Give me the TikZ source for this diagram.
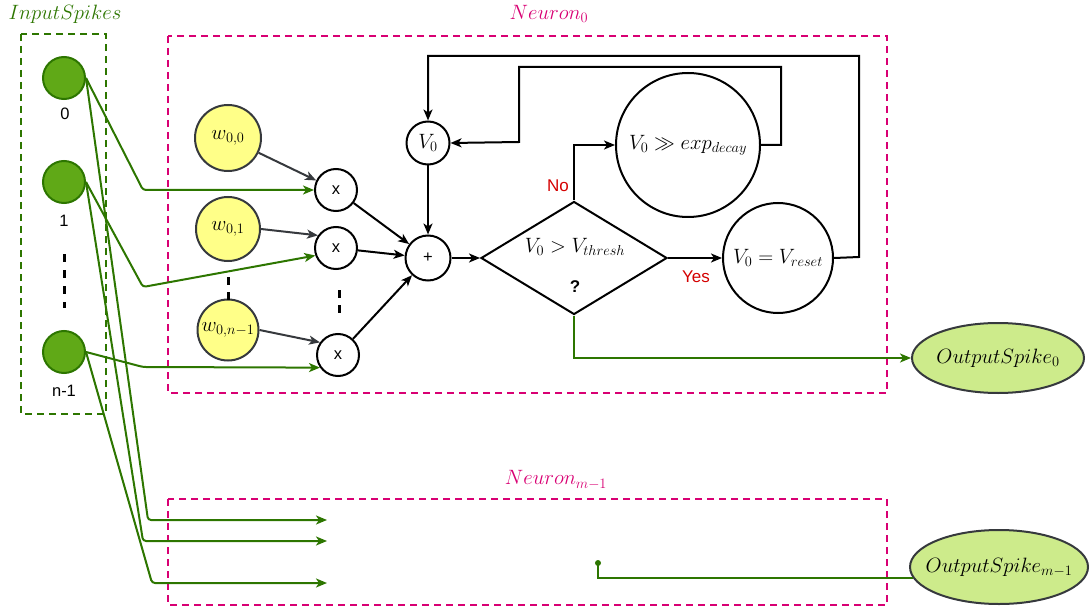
\documentclass[tikz,border=0pt]{standalone}
\usepackage{fontspec}
\setsansfont{Liberation Sans}
\usetikzlibrary{arrows.meta,shapes.geometric}
\definecolor{spk}{HTML}{60A917}
\definecolor{spkb}{HTML}{2D7600}
\definecolor{mag}{HTML}{D80073}
\definecolor{wfill}{HTML}{FFFF88}
\definecolor{gborder}{HTML}{36393D}
\definecolor{ofill}{HTML}{CDEB8B}
\definecolor{redlab}{HTML}{D40000}
\begin{document}
\begin{tikzpicture}[x=1pt,y=-1pt,
  mfont/.style={font=\fontsize{21}{25}\selectfont},
  sfont/.style={font=\sffamily\fontsize{16.5}{19}\selectfont},
  spike/.style={circle,draw=spkb,fill=spk,line width=2pt,minimum size=42pt,inner sep=0pt},
  wnode/.style={circle,draw=gborder,fill=wfill,line width=2pt,inner sep=0pt,mfont},
  opnode/.style={circle,draw=black,line width=2pt,inner sep=0pt,fill=white},
  outnode/.style={ellipse,draw=gborder,fill=ofill,line width=2pt,inner xsep=-25pt,inner ysep=0pt,mfont},
  tip/.style={-{Stealth[length=11pt,width=9pt,inset=3pt]}},
  gline/.style={draw=spkb,line width=2pt,rounded corners=3pt},
  warrow/.style={tip,draw=gborder,line width=2pt},
  barrow/.style={tip,draw=black,line width=2pt},
  nbox/.style={draw=mag,line width=2.2pt,dash pattern=on 7pt off 5pt},
  gbox/.style={draw=spkb,line width=2.2pt,dash pattern=on 7pt off 5pt},
  vdots/.style={draw=black,line width=3pt,dash pattern=on 8pt off 8pt},
  lab/.style={inner sep=0pt}
]
\useasboundingbox (0,0) rectangle (1091,612);

% boxes and titles
\draw[gbox] (21,34) rectangle (106,414);
\draw[nbox] (168,36) rectangle (887,393);
\draw[nbox] (168,499) rectangle (887,605);
\node[lab,mfont,text=spkb] (tin) at (65,14) {$InputSpikes$};
\node[lab,mfont,text=mag] (tn0) at (549,14) {$Neuron_0$};
\node[lab,mfont,text=mag] (tnm) at (556,480) {$Neuron_{m-1}$};

% input spikes
\node[spike] (s0) at (64,78) {};
\node[spike] (s1) at (64,182) {};
\node[spike] (sn) at (64,352) {};
\node[lab,sfont] (l0) at (65,114) {0};
\node[lab,sfont] (l1) at (64,221) {1};
\node[lab,sfont] (ln) at (64,391) {n-1};
\draw[vdots] (64,254) -- (64,308);

% weights
\node[wnode,minimum size=66pt] (w0) at (228,138) {$w_{0,0}$};
\node[wnode,minimum size=64pt] (w1) at (228,229) {$w_{0,1}$};
\node[wnode,minimum size=61pt] (wn) at (228,330) {$w_{0,n-1}$};
\draw[vdots,dash pattern=on 8pt off 7pt] (228,277) -- (228,300);

% multipliers, sum
\node[opnode,minimum size=42pt,sfont] (m1) at (336,190) {x};
\node[opnode,minimum size=42pt,sfont] (m2) at (336,248) {x};
\node[opnode,minimum size=42pt,sfont] (m3) at (338,355) {x};
\draw[vdots,dash pattern=on 8pt off 7pt] (339,290) -- (339,313);
\node[opnode,minimum size=45pt,sfont] (plus) at (428,258) {+};
\node[opnode,minimum size=43pt,mfont] (v0) at (428,143) {$V_0$};

% decision
\node[diamond,draw=black,line width=2pt,minimum width=186pt,minimum height=113pt,inner sep=0pt] (dia) at (574,258) {};
\node[lab,mfont] (dtext) at (575,247) {$V_0 > V_{thresh}$};
\node[lab,font=\sffamily\bfseries\fontsize{17}{19}\selectfont] (dq) at (575,287) {?};
\node[opnode,minimum size=144pt,mfont] (exp) at (688,145) {$V_0 \gg exp_{decay}$};
\node[opnode,minimum size=110pt,mfont] (reset) at (778,258) {$V_0 = V_{reset}$};

% outputs
\node[outnode,minimum width=172pt,minimum height=70pt] (out0) at (998,358) {$OutputSpike_0$};
\node[outnode,minimum width=178pt,minimum height=74pt] (outm) at (999,567) {$OutputSpike_{m-1}$};

% labels
\node[lab,font=\sffamily\fontsize{17}{19}\selectfont,text=redlab] (no) at (558,186) {No};
\node[lab,font=\sffamily\fontsize{17}{19}\selectfont,text=redlab] (yes) at (696,277) {Yes};

% free ends
\coordinate (e1) at (327,520);
\coordinate (e2) at (327,541);
\coordinate (e3) at (327,583);
\coordinate (dot) at (598,563);

% spike connectors
\draw[gline,tip] (s0.east) -- (143,190) -- (m1.west);
\draw[gline,tip] (s1.east) -- (143,287) -- (m2.200);
\draw[gline,tip] (sn.east) -- (143,367) -- (m3.215);
\draw[gline,tip] (s0.east) -- (148,520) -- (e1);
\draw[gline,tip] (s1.east) -- (143,541) -- (e2);
\draw[gline,tip] (sn.east) -- (152,583) -- (e3);

% weight connectors
\draw[warrow] (w0) -- (m1);
\draw[warrow] (w1.east) -- (m2.145);
\draw[warrow] (wn.east) -- (m3.145);

% sums
\draw[barrow] (m1) -- (plus);
\draw[barrow] (m2) -- (plus);
\draw[barrow] (m3) -- (plus);
\draw[barrow] (v0) -- (plus);
\draw[barrow] (plus) -- (dia.west);
\draw[barrow] (dia.north) |- (exp.west);
\draw[barrow] (dia.east) -- (reset.west);
\draw[barrow] (exp.east) -- (781,145) -- (781,67) -- (519,67) -- (519,142) -- (v0.east);
\draw[barrow] (reset.east) -- (859,257) -- (859,56) -- (428,56) -- (v0.north);

% outputs
\draw[tip,draw=spkb,line width=2pt] (dia.south) |- (out0.west);
\fill[spkb] (dot) circle (3pt);
\draw[draw=spkb,line width=2pt] (dot) |- (outm.187.5);
\end{tikzpicture}
\end{document}
